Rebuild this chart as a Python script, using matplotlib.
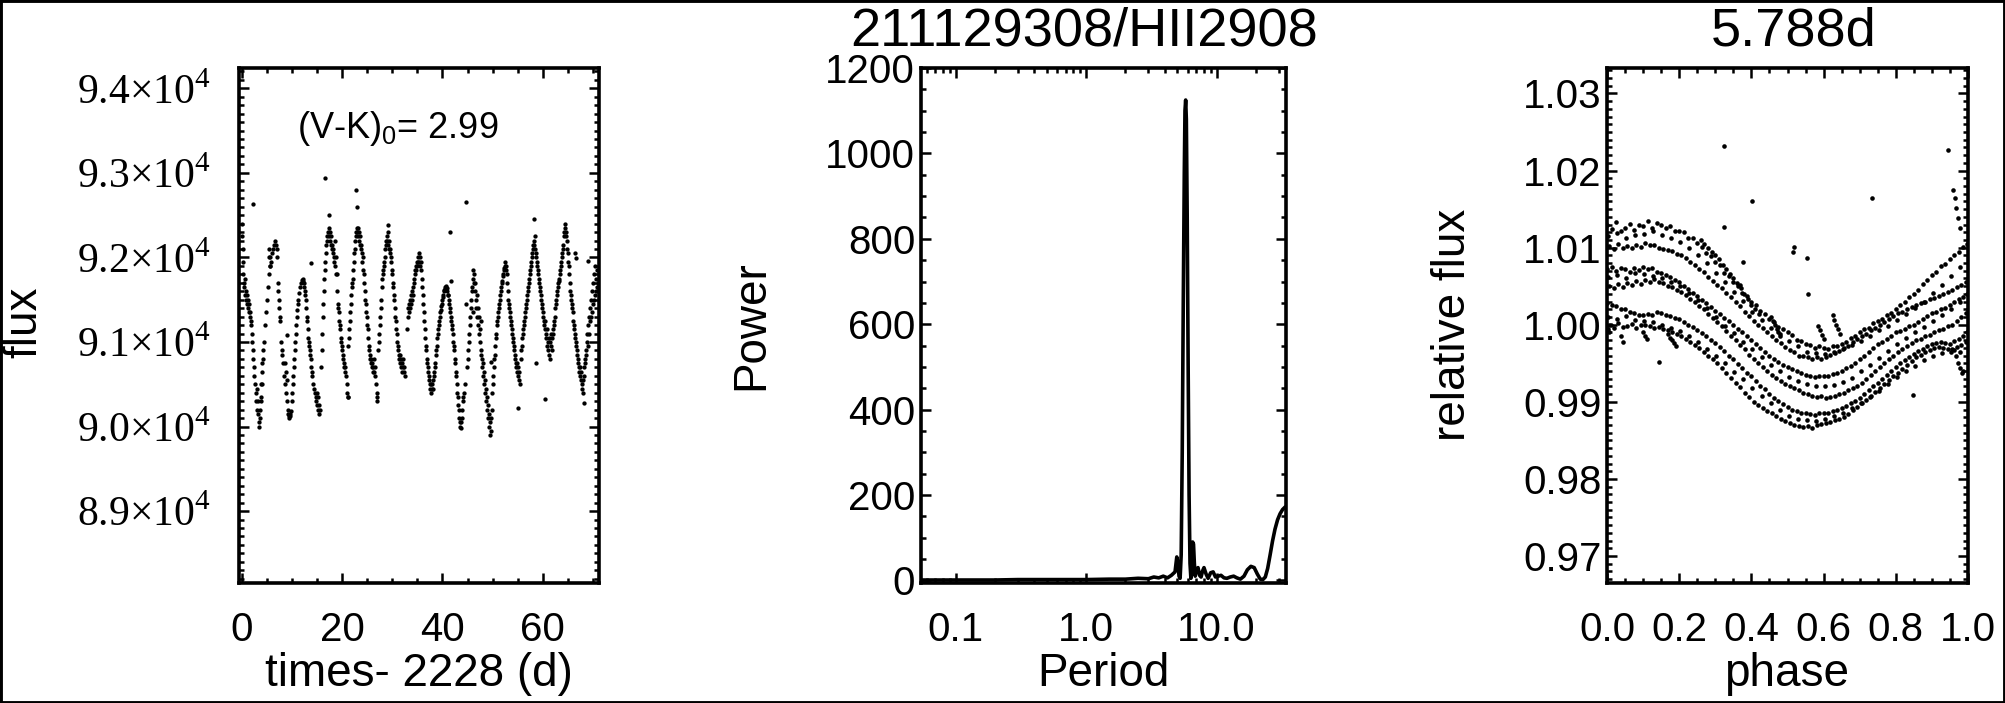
import matplotlib
matplotlib.use('Agg')
import matplotlib.pyplot as plt
from matplotlib.ticker import FixedLocator, MultipleLocator, FuncFormatter, LogLocator, NullFormatter
from matplotlib.patches import Rectangle

plt.rcParams['font.family'] = ['Liberation Sans', 'DejaVu Sans']
plt.rcParams['mathtext.fontset'] = 'custom'
plt.rcParams['mathtext.rm'] = 'Liberation Sans'
plt.rcParams['mathtext.it'] = 'Liberation Sans:italic'

# ---------------- data: light curve (left panel) ----------------
lc_time = [
    0.0, 0.05, 0.1, 0.15, 0.2, 0.3, 0.4, 0.5, 0.6, 0.7,
    0.8, 0.9, 1.0, 1.1, 1.2, 1.3, 1.4, 1.5, 1.6, 1.7,
    1.8, 1.9, 2.0, 2.1, 2.2, 2.3, 2.45, 2.6, 2.7, 2.8,
    2.9, 3.0, 3.1, 3.2, 3.3, 3.4, 3.5,
    3.6, 3.7, 3.8, 3.9, 4.0, 4.1, 4.2, 4.4, 4.6, 4.8,
    5.0, 5.2, 5.3, 5.4, 5.5, 5.6, 5.8, 6.0, 6.2, 6.4,
    6.6, 6.8, 6.9, 7.0,
    7.1, 7.2, 7.3, 7.4, 7.5, 7.6, 7.8, 7.9, 8.0, 8.2,
    8.4, 8.5, 8.6, 8.7, 8.8, 8.9, 9.0, 9.1, 9.2, 9.3,
    9.4, 9.5, 9.6, 9.7,
    9.9, 10.0, 10.1, 10.2, 10.3, 10.4, 10.5, 10.6, 10.7, 10.8,
    10.9, 11.0, 11.1, 11.2, 11.4, 11.6, 11.8, 12.0, 12.1, 12.2,
    12.3,
    12.4, 12.5, 12.6, 12.7, 12.8, 12.9, 13.0, 13.1, 13.2, 13.3,
    13.4, 13.5, 13.6, 13.7, 13.8, 13.9, 14.0, 14.2, 14.4, 14.6,
    14.7, 14.8, 14.9, 15.0, 15.1, 15.2, 15.3, 15.4,
    15.8, 15.9, 16.0, 16.1, 16.2, 16.3, 16.4, 16.5, 16.6, 16.7,
    16.8, 16.9, 17.0, 17.2, 17.3, 17.4, 17.5, 17.6, 17.7, 17.8,
    17.9, 18.0, 18.1, 18.2, 18.3, 18.4,
    18.5, 18.6, 18.7, 18.8, 18.9, 19.0, 19.1, 19.2, 19.3, 19.4,
    19.5, 19.6, 19.7, 19.8, 19.9, 20.0, 20.1, 20.2, 20.3, 20.4,
    20.5, 20.6, 20.7, 20.9, 21.0, 21.1,
    21.2, 21.3, 21.4, 21.5, 21.6, 21.7, 21.8, 21.9, 22.0, 22.1,
    22.2, 22.3, 22.4, 22.5, 22.6, 22.7, 22.8, 22.9, 23.0, 23.1,
    23.2, 23.3, 23.4, 23.5, 23.6, 23.7, 23.8,
    23.9, 24.0, 24.1, 24.2, 24.3, 24.4, 24.5, 24.6, 24.7, 24.8,
    24.9, 25.0, 25.1, 25.2, 25.3, 25.4, 25.5, 25.6, 25.7, 25.8,
    25.9, 26.0, 26.1, 26.2, 26.3, 26.4, 26.5, 26.6, 26.8, 26.9,
    27.0,
    27.2, 27.3, 27.4, 27.5, 27.6, 27.7, 27.8, 27.9, 28.0, 28.1,
    28.2, 28.3, 28.4, 28.5, 28.6, 28.7, 28.8, 28.9, 29.0, 29.1,
    29.2, 29.3, 29.4,
    29.5, 29.6, 29.7, 29.8, 29.9, 30.0, 30.1, 30.2, 30.3, 30.4,
    30.5, 30.6, 30.7, 30.8, 30.9, 31.0, 31.1, 31.2, 31.3, 31.4,
    31.5, 31.6, 31.7, 31.8, 31.9, 32.0, 32.1, 32.2, 32.3, 32.4,
    32.5,
    33.0, 33.1, 33.2, 33.3, 33.4, 33.5, 33.6, 33.7, 33.8, 33.9,
    34.0, 34.1, 34.2, 34.3, 34.4, 34.5, 34.6, 34.7, 34.8, 34.9,
    35.0, 35.1, 35.2, 35.3, 35.4, 35.5, 35.6, 35.7, 35.8, 35.9,
    36.0, 36.1, 36.2, 36.3, 36.4, 36.5, 36.6, 36.7, 36.8, 36.9,
    37.0, 37.1, 37.2, 37.3, 37.4, 37.5, 37.6, 37.7, 37.8, 37.9,
    38.0, 38.1, 38.2,
    38.3, 38.4, 38.5, 38.6, 38.7, 38.8, 38.9, 39.0, 39.1, 39.2,
    39.3, 39.4, 39.5, 39.6, 39.7, 39.8, 39.9, 40.0, 40.1, 40.2,
    40.3, 40.4, 40.5, 40.6, 40.7, 40.8, 40.9, 41.0, 41.1,
    41.2, 41.3, 41.4, 41.5, 41.6, 41.7, 41.8, 41.9, 42.0, 42.1,
    42.2, 42.3, 42.4, 42.5, 42.6, 42.7, 42.8, 42.9, 43.0, 43.1,
    43.2, 43.3, 43.4, 43.5, 43.6, 43.7, 43.8, 43.9, 44.0, 44.1,
    44.2,
    44.3, 44.4, 44.9, 45.0, 45.1, 45.2, 45.3, 45.4, 45.5, 45.6,
    45.7, 45.8, 45.9, 46.0, 46.1, 46.2, 46.3, 46.4, 46.5, 46.6,
    46.7, 46.8, 46.9, 47.0, 47.1, 47.2, 47.3, 47.4, 47.5,
    47.6, 47.7, 47.8, 47.9, 48.0, 48.1, 48.2, 48.3, 48.4, 48.5,
    48.6, 48.7, 48.8, 48.9, 49.0, 49.1, 49.2, 49.3, 49.4, 49.5,
    49.6, 49.7, 49.8,
    49.9, 50.0, 50.1, 50.2, 50.3, 50.4, 50.5, 50.6, 50.7, 50.8,
    50.9, 51.0, 51.1, 51.2, 51.3, 51.4, 51.5, 51.6, 51.7, 51.8,
    51.9, 52.0, 52.1, 52.2, 52.3, 52.4, 52.5, 52.6, 52.7, 52.8,
    52.9, 53.0, 53.1, 53.2, 53.3, 53.4, 53.5, 53.6, 53.7, 53.8,
    53.9, 54.0, 54.1, 54.2, 54.3, 54.4, 54.5, 54.6, 54.7, 54.8,
    54.9, 55.0, 55.1, 55.2, 55.3, 55.4,
    55.6, 55.7, 55.8, 55.9, 56.0, 56.1, 56.2, 56.3, 56.4, 56.5,
    56.6, 56.7, 56.8, 56.9, 57.0, 57.1, 57.2, 57.3, 57.4, 57.5,
    57.6, 57.7, 57.8, 57.9, 58.0, 58.1, 58.2, 58.3, 58.4, 58.5,
    58.6, 58.7, 58.8, 58.9, 59.0, 59.1, 59.2, 59.3, 59.4, 59.5,
    59.6, 59.7, 59.8, 59.9, 60.0, 60.1, 60.2, 60.3, 60.4, 60.5,
    60.6, 60.7, 60.8, 60.9, 61.0, 61.1, 61.2, 61.3, 61.4, 61.5,
    61.6, 61.7, 61.8,
    61.9, 62.0, 62.1, 62.2, 62.3, 62.4, 62.5, 62.6, 62.7, 62.8,
    62.9, 63.0, 63.1, 63.2, 63.3, 63.4, 63.5, 63.6, 63.7, 63.8,
    63.9, 64.0, 64.1, 64.2, 64.3, 64.4, 64.5, 64.6,
    64.7, 64.8, 64.9, 65.0, 65.1, 65.2, 65.3, 65.4, 65.5, 65.6,
    65.7, 65.8, 65.9, 66.0, 66.1, 66.2, 66.3, 66.4, 66.5, 66.6,
    66.7, 66.8, 66.9, 67.0, 67.1, 67.2, 67.3, 67.4, 67.5, 67.6,
    67.7, 67.8, 67.9, 68.0, 68.1,
    68.2, 68.3, 68.4, 68.5, 68.6, 68.7, 68.8, 68.9, 69.0, 69.1,
    69.2, 69.3, 69.4, 69.5, 69.6, 69.7, 69.8, 69.9, 70.0, 70.1,
    70.2, 70.3, 70.4, 70.5, 70.6, 70.7, 70.8, 70.9, 71.0, 71.1,
]
lc_flux = [
    92400, 92250, 92100, 91950, 91800, 91700, 91650, 91750, 91550, 91600,
    91500, 91450, 91550, 91400, 91500, 91350, 91450, 91300, 91350, 91250,
    91200, 91100, 91000, 90900, 90800, 90700, 90600, 90500, 90400, 90300,
    90200, 90450, 90150, 90300, 90050, 90000, 90100,
    90200, 90350, 90500, 90650, 90750, 90800, 90900, 91000, 91200, 91350,
    91500, 91650, 92000, 91800, 91900, 91900, 91950, 92050, 92100, 92150,
    92200, 92150, 92100, 92000,
    91700, 91600, 91500, 91400, 91300, 91250, 91000, 90900, 90850, 90750,
    90600, 90750, 90500, 90650, 90400, 90550, 90300, 90200, 90150, 90120,
    90100, 90150, 90120, 90180,
    90300, 90400, 90500, 90600, 90700, 90800, 90900, 91000, 91100, 91200,
    91300, 91380, 91450, 91500, 91580, 91650, 91700, 91730, 91740, 91720,
    91700,
    91650, 91600, 91550, 91500, 91400, 91300, 91250, 91150, 91050, 91000,
    90950, 90900, 90850, 90800, 90700, 90650, 90600, 90500, 90450, 90400,
    90350, 90300, 90250, 90400, 90200, 90350, 90150, 90250,
    90700, 90900, 91100, 91300, 91450, 91600, 91750, 91850, 91950, 92050,
    92150, 92200, 92250, 92300, 92350, 92250, 92300, 92200, 92150, 92250,
    92100, 92150, 92050, 92100, 92000, 91950,
    91900, 92200, 91800, 92000, 91600, 91800, 91450, 91400, 91350, 91250,
    91200, 91150, 91050, 91000, 90950, 90900, 90850, 90800, 90750, 90700,
    90650, 90700, 90600, 90500, 90400, 90350,
    90950, 91050, 91150, 91250, 91350, 91450, 91550, 91650, 91700, 91750,
    91850, 91950, 92050, 92100, 92200, 92250, 92300, 92350, 92300, 92250,
    92350, 92200, 92300, 92150, 92250, 92100, 92150,
    92050, 91950, 92000, 91850, 91800, 91700, 91600, 91500, 91450, 91350,
    91300, 91200, 91150, 91050, 90950, 90900, 90850, 90800, 90750, 90800,
    90700, 90750, 90650, 90700, 90800, 90650, 90600, 90700, 90500, 90400,
    90350,
    90900, 91000, 91100, 91200, 91300, 91400, 91500, 91650, 91750, 91800,
    91850, 91900, 91950, 92000, 92100, 92150, 92200, 92250, 92200, 92150,
    92300, 92200, 92100,
    92100, 92050, 92000, 91950, 91850, 91800, 91700, 91650, 91550, 91500,
    91400, 91300, 91250, 91150, 91100, 91000, 90950, 90900, 90850, 90800,
    90850, 90750, 90800, 90700, 90750, 90650, 90700, 90800, 90650, 90700,
    90600,
    91150, 91300, 91400, 91350, 91450, 91400, 91500, 91450, 91550, 91500,
    91600, 91550, 91650, 91700, 91750, 91800, 91850, 91900, 91850, 91950,
    91900, 92000, 91950, 92050, 91950, 92000, 91900, 91950, 91850, 91750,
    91650, 91550, 91450, 91350, 91250, 91150, 91050, 90950, 90900, 90800,
    90750, 90700, 90650, 90600, 90550, 90500, 90450, 90500, 90400, 90450,
    90500, 90450, 90550,
    90600, 90650, 90700, 90750, 90850, 90900, 90950, 91050, 91100, 91150,
    91200, 91250, 91300, 91350, 91380, 91420, 91450, 91500, 91530, 91560,
    91600, 91620, 91650, 91630, 91660, 91620, 91640, 91600, 91560,
    91550, 91500, 91450, 91400, 91350, 91300, 91250, 91200, 91150, 91100,
    91000, 90950, 90900, 90800, 90750, 90650, 90600, 90500, 90400, 90350,
    90250, 90200, 90100, 90050, 90000, 90050, 89980, 90100, 90200, 90300,
    90350,
    90400, 90500, 90700, 90800, 90900, 91000, 91100, 91200, 91300, 91400,
    91500, 91600, 91650, 91750, 91850, 91700, 91800, 91600, 91700, 91500,
    91400, 91550, 91300, 91400, 91200, 91300, 91100, 91150, 91000,
    90900, 90850, 90800, 90700, 90750, 90600, 90650, 90500, 90550, 90400,
    90450, 90300, 90350, 90200, 90250, 90100, 90000, 90150, 89900, 90050,
    89950, 90100, 90200,
    90400, 90500, 90600, 90700, 90800, 90850, 90950, 91050, 91100, 91200,
    91250, 91300, 91350, 91400, 91450, 91500, 91550, 91600, 91650, 91700,
    91720, 91780, 91800, 91850, 91880, 91900, 91950, 91850, 91900, 91800,
    91700, 91600, 91500, 91450, 91400, 91350, 91300, 91250, 91200, 91150,
    91100, 91050, 91000, 90900, 90950, 90850, 90800, 90750, 90700, 90650,
    90750, 90600, 90700, 90550, 90650, 90500,
    90800, 90900, 90950, 91050, 91100, 91150, 91200, 91250, 91300, 91350,
    91400, 91450, 91500, 91550, 91600, 91650, 91700, 91750, 91800, 91850,
    91900, 91950, 92000, 92050, 92100, 92150, 92200, 92150, 92250, 92100,
    92050, 92000, 91950, 91900, 91850, 91800, 91750, 91700, 91650, 91600,
    91550, 91500, 91450, 91400, 91350, 91300, 91250, 91200, 91150, 91250,
    91100, 91050, 91150, 90950, 91000, 90900, 91050, 90850, 91000, 90800,
    90950, 91100, 90900,
    91050, 91100, 91150, 91200, 91250, 91300, 91400, 91450, 91500, 91550,
    91600, 91650, 91700, 91720, 91750, 91800, 91850, 91900, 91950, 92000,
    92050, 92100, 92150, 92250, 92300, 92350, 92400, 92300,
    92250, 92200, 92100, 92050, 91950, 91900, 91800, 91700, 91600, 91550,
    91500, 91450, 91400, 91350, 91250, 91150, 91200, 91050, 91100, 90950,
    91000, 90900, 90850, 90800, 90750, 90700, 90650, 90700, 90600, 90550,
    90650, 90500, 90450, 90550, 90400,
    90600, 90700, 90800, 90750, 90900, 90850, 91000, 91100, 90950, 91200,
    91100, 91300, 91250, 91400, 91300, 91500, 91350, 91600, 91450, 91700,
    91500, 91800, 91550, 91900, 91600, 91750, 91650, 91850, 91700, 91600,
]
# isolated points of the light curve
lc_out_time = [2.1, 16.5, 17.3, 22.7, 22.9, 13.8, 9.0, 41.6, 44.7, 44.6,
               41.7, 49.6, 58.3, 58.7, 60.5, 55.1, 66.5, 66.6, 68.2, 69.0,
               5.4, 5.5, 46.0, 47.6, 29.2, 27.0, 21.2, 4.0, 3.8, 15.5]
lc_out_flux = [92630, 92940, 92500, 92800, 92600, 91930, 91080, 92300, 92660, 91450,
               91720, 90760, 92450, 90750, 90330, 90220, 92050, 91990, 90280, 91960,
               92100, 92000, 91350, 91250, 92380, 90300, 90350, 90500, 90300, 90200]

# ---------------- data: periodogram (middle panel) ----------------
period = [0.054, 0.07, 0.1, 0.15, 0.2, 0.3, 0.5, 0.7, 1.0, 1.5,
          2.0, 2.5, 3.0, 3.3, 3.6, 3.9, 4.2, 4.5, 4.8, 4.95,
          5.05, 5.15, 5.25, 5.35, 5.45, 5.55, 5.65, 5.72, 5.79, 5.86,
          5.95, 6.05, 6.15, 6.25, 6.35, 6.45, 6.55, 6.65, 6.75, 6.85,
          7.0, 7.2, 7.4, 7.6, 7.8, 8.0, 8.3, 8.6, 9.0, 9.4,
          9.8, 10.3, 10.8, 11.4, 12.0, 12.7, 13.5, 14.3, 15.2, 16.2,
          17.2, 18.3, 19.4, 20.5, 21.6, 22.6, 23.6, 24.6, 25.7, 26.8,
          28.0, 29.3, 30.6, 32.0, 33.5, 34.0]
power = [1, 1, 1, 1, 1, 2, 2, 2, 2, 3,
         3, 5, 4, 8, 6, 10, 6, 12, 20, 55,
         40, 10, 5, 60, 300, 650, 950, 1100, 1125, 1080,
         850, 500, 200, 40, 5, 30, 90, 85, 40, 10,
         25, 30, 12, 8, 22, 30, 15, 5, 18, 20,
         8, 10, 12, 6, 5, 8, 10, 6, 3, 10,
         25, 33, 30, 15, 3, 2, 8, 28, 60, 92,
         120, 142, 156, 166, 172, 172]

# ---------------- data: phase-folded light curve (right panel) ----------------
phase_a = [0.0000, 0.0125, 0.0250, 0.0375, 0.0500, 0.0625, 0.0750, 0.0875, 0.1000, 0.1125,
           0.1250, 0.1375, 0.1500, 0.1625, 0.1750, 0.1875, 0.2000, 0.2125, 0.2250, 0.2375,
           0.2500, 0.2625, 0.2750, 0.2875, 0.3000, 0.3125, 0.3250, 0.3375, 0.3500, 0.3625,
           0.3750, 0.3875, 0.4000, 0.4125, 0.4250, 0.4375, 0.4500, 0.4625, 0.4750, 0.4875,
           0.5000, 0.5125, 0.5250, 0.5375, 0.5500, 0.5625, 0.5750, 0.5875, 0.6000, 0.6125,
           0.6250, 0.6375, 0.6500, 0.6625, 0.6750, 0.6875, 0.7000, 0.7125, 0.7250, 0.7375,
           0.7500, 0.7625, 0.7750, 0.7875, 0.8000, 0.8125, 0.8250, 0.8375, 0.8500, 0.8625,
           0.8750, 0.8875, 0.9000, 0.9125, 0.9250, 0.9375, 0.9500, 0.9625, 0.9750, 0.9875,
           0.9960]
phase_b = [0.0060, 0.0185, 0.0310, 0.0435, 0.0560, 0.0685, 0.0810, 0.0935, 0.1060, 0.1185,
           0.1310, 0.1435, 0.1560, 0.1685, 0.1810, 0.1935, 0.2060, 0.2185, 0.2310, 0.2435,
           0.2560, 0.2685, 0.2810, 0.2935, 0.3060, 0.3185, 0.3310, 0.3435, 0.3560, 0.3685,
           0.3810, 0.3935, 0.4060, 0.4185, 0.4310, 0.4435, 0.4560, 0.4685, 0.4810, 0.4935,
           0.5060, 0.5185, 0.5310, 0.5435, 0.5560, 0.5685, 0.5810, 0.5935, 0.6060, 0.6185,
           0.6310, 0.6435, 0.6560, 0.6685, 0.6810, 0.6935, 0.7060, 0.7185, 0.7310, 0.7435,
           0.7560, 0.7685, 0.7810, 0.7935, 0.8060, 0.8185, 0.8310, 0.8435, 0.8560, 0.8685,
           0.8810, 0.8935, 0.9060, 0.9185, 0.9310, 0.9435, 0.9560, 0.9685, 0.9810, 0.9935,
           0.9990]
phase_c = [0.003, 0.028, 0.053, 0.078, 0.103, 0.128, 0.153, 0.178, 0.203, 0.228,
           0.253, 0.278, 0.303, 0.328, 0.353, 0.378, 0.403, 0.428, 0.453, 0.478,
           0.503, 0.528, 0.553, 0.578, 0.603, 0.628, 0.653, 0.678, 0.703, 0.728,
           0.753, 0.778, 0.803, 0.828, 0.853, 0.878, 0.903, 0.928, 0.953, 0.978]
rel_track1 = [1.0130, 1.0124, 1.0133, 1.0121, 1.0125, 1.0131, 1.0123, 1.0129, 1.0128, 1.0134,
              1.0125, 1.0132, 1.0130, 1.0126, 1.0128, 1.0122, 1.0122, 1.0120, 1.0112, 1.0113,
              1.0106, 1.0101, 1.0093, 1.0089, 1.0082, 1.0077, 1.0067, 1.0063, 1.0055, 1.0050,
              1.0041, 1.0037, 1.0030, 1.0025, 1.0018, 1.0014, 1.0008, 1.0004, 0.9997, 0.9995,
              0.9990, 0.9987, 0.9980, 0.9979, 0.9975, 0.9974, 0.9970, 0.9972, 0.9970, 0.9968,
              0.9973, 0.9972, 0.9975, 0.9978, 0.9983, 0.9985, 0.9990, 0.9995, 0.9996, 1.0002,
              1.0005, 1.0008, 1.0013, 1.0015, 1.0020, 1.0026, 1.0029, 1.0036, 1.0040, 1.0045,
              1.0053, 1.0058, 1.0065, 1.0069, 1.0076, 1.0079, 1.0085, 1.0091, 1.0094, 1.0101,
              1.0105]
rel_track2 = [1.0102, 1.0098, 1.0105, 1.0100, 1.0102, 1.0099, 1.0104, 1.0101, 1.0106, 1.0103,
              1.0104, 1.0100, 1.0098, 1.0097, 1.0095, 1.0092, 1.0090, 1.0087, 1.0082, 1.0077,
              1.0072, 1.0068, 1.0062, 1.0057, 1.0052, 1.0047, 1.0041, 1.0036, 1.0030, 1.0024,
              1.0017, 1.0011, 1.0005, 1.0000, 0.9996, 0.9990, 0.9985, 0.9980, 0.9976, 0.9971,
              0.9967, 0.9964, 0.9960, 0.9960, 0.9958, 0.9955, 0.9958, 0.9956, 0.9958, 0.9961,
              0.9963, 0.9966, 0.9970, 0.9973, 0.9977, 0.9981, 0.9985, 0.9988, 0.9993, 0.9996,
              1.0000, 1.0004, 1.0008, 1.0011, 1.0015, 1.0017, 1.0020, 1.0023, 1.0025, 1.0028,
              1.0030, 1.0033, 1.0035, 1.0037, 1.0040, 1.0043, 1.0045, 1.0049, 1.0052, 1.0056,
              1.0060]
rel_track3 = [1.0072, 1.0075, 1.0070, 1.0074, 1.0072, 1.0069, 1.0074, 1.0071, 1.0075, 1.0072,
              1.0073, 1.0068, 1.0067, 1.0064, 1.0062, 1.0058, 1.0055, 1.0050, 1.0046, 1.0041,
              1.0037, 1.0032, 1.0028, 1.0023, 1.0018, 1.0014, 1.0009, 1.0005, 1.0000, 0.9995,
              0.9990, 0.9985, 0.9980, 0.9975, 0.9970, 0.9965, 0.9960, 0.9956, 0.9952, 0.9948,
              0.9945, 0.9942, 0.9940, 0.9937, 0.9935, 0.9934, 0.9932, 0.9934, 0.9933, 0.9934,
              0.9936, 0.9938, 0.9940, 0.9944, 0.9947, 0.9951, 0.9955, 0.9960, 0.9965, 0.9970,
              0.9975, 0.9978, 0.9982, 0.9986, 0.9990, 0.9992, 0.9995, 0.9998, 1.0000, 1.0004,
              1.0008, 1.0011, 1.0015, 1.0017, 1.0020, 1.0022, 1.0025, 1.0029, 1.0033, 1.0036,
              1.0040]
rel_track4 = [1.0050, 1.0047, 1.0053, 1.0049, 1.0054, 1.0051, 1.0057, 1.0053, 1.0058, 1.0055,
              1.0059, 1.0055, 1.0054, 1.0050, 1.0049, 1.0045, 1.0042, 1.0038, 1.0033, 1.0029,
              1.0024, 1.0020, 1.0014, 1.0009, 1.0003, 0.9998, 0.9992, 0.9986, 0.9980, 0.9974,
              0.9968, 0.9961, 0.9955, 0.9950, 0.9945, 0.9940, 0.9935, 0.9931, 0.9927, 0.9923,
              0.9920, 0.9918, 0.9915, 0.9912, 0.9910, 0.9908, 0.9906, 0.9907, 0.9905, 0.9906,
              0.9908, 0.9910, 0.9912, 0.9915, 0.9918, 0.9921, 0.9925, 0.9930, 0.9935, 0.9940,
              0.9945, 0.9950, 0.9955, 0.9960, 0.9965, 0.9969, 0.9972, 0.9976, 0.9980, 0.9982,
              0.9985, 0.9987, 0.9990, 0.9993, 0.9995, 0.9998, 1.0000, 1.0005, 1.0010, 1.0015,
              1.0020]
rel_track5 = [1.0028, 1.0025, 1.0024, 1.0021, 1.0020, 1.0016, 1.0015, 1.0013, 1.0012, 1.0014,
              1.0013, 1.0016, 1.0015, 1.0012, 1.0011, 1.0009, 1.0007, 1.0003, 1.0000, 0.9997,
              0.9993, 0.9989, 0.9985, 0.9980, 0.9976, 0.9971, 0.9966, 0.9960, 0.9955, 0.9949,
              0.9944, 0.9938, 0.9933, 0.9927, 0.9921, 0.9916, 0.9910, 0.9905, 0.9901, 0.9897,
              0.9893, 0.9890, 0.9888, 0.9886, 0.9885, 0.9884, 0.9883, 0.9885, 0.9885, 0.9886,
              0.9888, 0.9890, 0.9892, 0.9895, 0.9898, 0.9901, 0.9905, 0.9910, 0.9915, 0.9920,
              0.9925, 0.9930, 0.9935, 0.9940, 0.9945, 0.9950, 0.9954, 0.9958, 0.9962, 0.9966,
              0.9969, 0.9972, 0.9975, 0.9976, 0.9977, 0.9976, 0.9975, 0.9979, 0.9982, 0.9986,
              0.9990]
rel_track6 = [1.0000, 0.9996, 1.0002, 0.9997, 0.9998, 1.0001, 0.9996, 1.0000, 1.0000, 0.9998,
              0.9996, 0.9997, 0.9995, 0.9993, 0.9990, 0.9988, 0.9985, 0.9982, 0.9978, 0.9974,
              0.9970, 0.9965, 0.9960, 0.9955, 0.9950, 0.9944, 0.9937, 0.9931, 0.9925, 0.9919,
              0.9912, 0.9906, 0.9900, 0.9896, 0.9892, 0.9888, 0.9885, 0.9881, 0.9878, 0.9875,
              0.9872, 0.9870, 0.9869, 0.9867, 0.9868, 0.9866, 0.9870, 0.9871, 0.9872, 0.9874,
              0.9876, 0.9878, 0.9880, 0.9884, 0.9889, 0.9893, 0.9898, 0.9903, 0.9908, 0.9913,
              0.9918, 0.9923, 0.9928, 0.9933, 0.9938, 0.9943, 0.9948, 0.9953, 0.9958, 0.9961,
              0.9964, 0.9967, 0.9970, 0.9971, 0.9970, 0.9969, 0.9968, 0.9971, 0.9974, 0.9977,
              0.9980]
rel_track7 = [1.0115, 1.0119, 1.0113, 1.0117, 1.0118, 1.0121, 1.0116, 1.0112, 1.0107, 1.0099,
              1.0090, 1.0080, 1.0067, 1.0055, 1.0043, 1.0031, 1.0017, 1.0006, 0.9996, 0.9988,
              0.9979, 0.9972, 0.9965, 0.9963, 0.9962, 0.9965, 0.9969, 0.9974, 0.9979, 0.9986,
              0.9993, 0.9999, 1.0006, 1.0014, 1.0022, 1.0030, 1.0041, 1.0052, 1.0063, 1.0075]
rel_track8 = [1.0062, 1.0065, 1.0061, 1.0067, 1.0066, 1.0063, 1.0060, 1.0055, 1.0050, 1.0041,
              1.0032, 1.0022, 1.0010, 0.9999, 0.9989, 0.9978, 0.9968, 0.9958, 0.9948, 0.9940,
              0.9932, 0.9927, 0.9923, 0.9921, 0.9920, 0.9922, 0.9926, 0.9931, 0.9940, 0.9948,
              0.9957, 0.9966, 0.9975, 0.9983, 0.9990, 0.9997, 1.0005, 1.0012, 1.0020, 1.0030]
rel_track9 = [1.0010, 1.0008, 1.0011, 1.0006, 1.0005, 1.0003, 1.0000, 0.9996, 0.9992, 0.9985,
              0.9977, 0.9969, 0.9960, 0.9950, 0.9939, 0.9929, 0.9918, 0.9908, 0.9898, 0.9890,
              0.9882, 0.9878, 0.9876, 0.9875, 0.9878, 0.9882, 0.9886, 0.9892, 0.9898, 0.9906,
              0.9914, 0.9923, 0.9932, 0.9940, 0.9947, 0.9954, 0.9960, 0.9963, 0.9965, 0.9965]
# scattered / streak points of the folded curve
phase_extra = [0.323, 0.401, 0.324, 0.734, 0.519, 0.555, 0.558, 0.515, 0.944, 0.958,
               0.144, 0.849, 0.378, 0.368, 0.963, 0.968, 0.973, 0.978,
               0.455, 0.460, 0.465, 0.470, 0.475, 0.480,
               0.585, 0.590, 0.595, 0.600, 0.625, 0.630, 0.635, 0.640, 0.645,
               0.260, 0.270, 0.280, 0.290, 0.300, 0.310, 0.320, 0.330, 0.340, 0.350,
               0.360, 0.370, 0.380, 0.390, 0.400, 0.410, 0.420,
               0.003, 0.006, 0.010, 0.040, 0.045, 0.100, 0.105, 0.110,
               0.170, 0.175, 0.180, 0.185, 0.190,
               0.962, 0.967, 0.972, 0.977, 0.982, 0.987]
rel_extra = [1.0232, 1.0161, 1.0127, 1.0165, 1.0101, 1.0086, 1.0040, 1.0094, 1.0226, 1.0175,
             0.9952, 0.9909, 1.0082, 1.0052, 1.0165, 1.0152, 1.0138, 1.0125,
             1.0010, 1.0005, 1.0000, 0.9995, 0.9990, 0.9985,
             0.9998, 0.9993, 0.9987, 0.9981, 1.0012, 1.0006, 1.0000, 0.9994, 0.9988,
             1.0110, 1.0105, 1.0100, 1.0094, 1.0090, 1.0085, 1.0078, 1.0072, 1.0066, 1.0060,
             1.0054, 1.0047, 1.0040, 1.0034, 1.0026, 1.0020, 1.0014,
             0.9995, 0.9990, 1.0000, 0.9985, 0.9978, 0.9990, 0.9985, 0.9982,
             0.9988, 0.9983, 0.9980, 0.9976, 0.9972,
             0.9967, 0.9959, 0.9950, 0.9944, 0.9938, 0.9940]

# ---------------- labels ----------------
flux_ticks = [89000, 90000, 91000, 92000, 93000, 94000]
flux_tick_labels = ['8.9', '9.0', '9.1', '9.2', '9.3', '9.4']
period_ticks = [0.1, 1.0, 10.0]
period_tick_labels = ['0.1', '1.0', '10.0']
title_mid = '211129308/HII2908'
title_right = '5.788d'
color_note = '(V-K)$_0$= 2.99'

assert len(lc_time) == len(lc_flux)

# ---------------- figure ----------------
W, H = 2005, 703
fig = plt.figure(figsize=(W / 100, H / 100), dpi=100)
fig.patches.append(Rectangle((0, 0), 1, 1, transform=fig.transFigure, fill=False,
                             edgecolor='black', linewidth=3.5))


def add_ax(x0, x1, y0=68, y1=583):
    return fig.add_axes([x0 / W, 1 - y1 / H, (x1 - x0) / W, (y1 - y0) / H])


def style(ax, ypad=4):
    for s in ax.spines.values():
        s.set_linewidth(2.6)
    ax.tick_params(which='both', direction='in', top=True, right=True, width=1.8, colors='black')
    ax.tick_params(which='major', length=7)
    ax.tick_params(which='minor', length=3.5)
    ax.tick_params(axis='x', which='major', pad=20, labelsize=29)
    ax.tick_params(axis='y', which='major', pad=ypad, labelsize=29)


LAB = 33
MS = 3.1
MS_PH = 3.3
ax1 = add_ax(238.7, 599.3)
ax2 = add_ax(920.7, 1286)
ax3 = add_ax(1607, 1968)

# left: light curve
ax1.plot(lc_time, lc_flux, 'o', color='black', ms=MS, mew=0)
ax1.plot(lc_out_time, lc_out_flux, 'o', color='black', ms=MS, mew=0)
ax1.set_xlim(-0.66, 71.3)
ax1.set_ylim(88150, 94240)
style(ax1, ypad=20)
ax1.xaxis.set_major_locator(FixedLocator([0, 20, 40, 60]))
ax1.xaxis.set_minor_locator(MultipleLocator(5))
ax1.yaxis.set_major_locator(FixedLocator(flux_ticks))
ax1.yaxis.set_minor_locator(MultipleLocator(100))
ax1.set_yticklabels([m + '\u00d710$^{\\mathregular{4}}$' for m in flux_tick_labels],
                    fontfamily='Liberation Serif', fontsize=30)
ax1.text(10.9, 93520, color_note, fontsize=26, va='center')

# middle: periodogram
ax2.plot(period, power, '-', color='black', lw=2.6)
ax2.set_xscale('log')
ax2.set_xlim(0.054, 34)
ax2.set_ylim(-6, 1200)
style(ax2)
ax2.xaxis.set_major_locator(FixedLocator(period_ticks))
ax2.xaxis.set_minor_locator(LogLocator(base=10, subs=[2, 3, 4, 5, 6, 7, 8, 9]))
ax2.xaxis.set_minor_formatter(NullFormatter())
ax2.set_xticklabels(period_tick_labels)
ax2.yaxis.set_major_locator(MultipleLocator(200))
ax2.yaxis.set_minor_locator(MultipleLocator(50))
ax2.yaxis.set_major_formatter(FuncFormatter(lambda v, p: '%d' % round(v)))

# right: phase folded
for ph, tr in [(phase_a, rel_track1), (phase_b, rel_track2), (phase_a, rel_track3),
               (phase_b, rel_track4), (phase_a, rel_track5), (phase_b, rel_track6),
               (phase_c, rel_track7), (phase_c, rel_track8), (phase_c, rel_track9)]:
    ax3.plot(ph, tr, 'o', color='black', ms=MS_PH, mew=0)
ax3.plot(phase_extra, rel_extra, 'o', color='black', ms=MS_PH, mew=0)
ax3.set_xlim(0, 1)
ax3.set_ylim(0.9665, 1.0333)
style(ax3)
ax3.xaxis.set_major_locator(MultipleLocator(0.2))
ax3.xaxis.set_minor_locator(MultipleLocator(0.05))
ax3.xaxis.set_major_formatter(FuncFormatter(lambda v, p: '%.1f' % v))
ax3.yaxis.set_major_locator(MultipleLocator(0.01))
ax3.yaxis.set_minor_locator(MultipleLocator(0.001))
ax3.yaxis.set_major_formatter(FuncFormatter(lambda v, p: '%.2f' % v))

# axis labels and titles
def ftext(x, y, s, **kw):
    fig.text(x / W, 1 - y / H, s, **kw)

ftext(24, 322, 'flux', rotation=90, ha='center', va='center', fontsize=LAB)
ftext(419, 686, 'times- 2228 (d)', ha='center', va='baseline', fontsize=LAB)
ftext(751, 325, 'Power', rotation=90, ha='center', va='center', fontsize=LAB)
ftext(1103, 686, 'Period', ha='center', va='baseline', fontsize=LAB)
ftext(1453, 325, 'relative flux', rotation=90, ha='center', va='center', fontsize=LAB)
ftext(1787, 686, 'phase', ha='center', va='baseline', fontsize=LAB)
ftext(1084, 45, title_mid, ha='center', va='baseline', fontsize=39)
ftext(1794, 45, title_right, ha='center', va='baseline', fontsize=39)

fig.savefig('out.png', dpi=100)
